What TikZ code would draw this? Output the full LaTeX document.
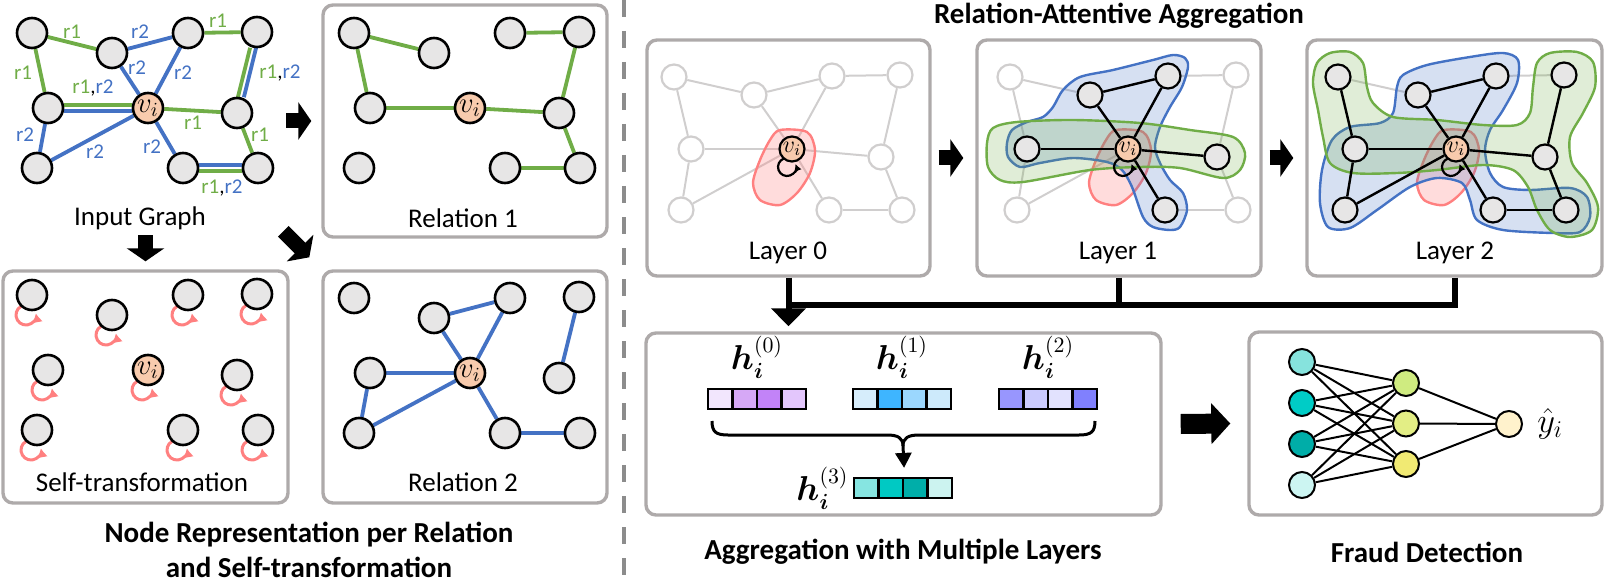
\documentclass[tikz,border=0pt]{standalone}
\usepackage{amsmath}
\usepackage{bm}
\usepackage{fontspec}
\setmainfont{Carlito}
\usetikzlibrary{calc,arrows.meta,positioning}

\definecolor{rgreen}{HTML}{70AD47}
\definecolor{rblue}{HTML}{4472C4}
\definecolor{boxgray}{HTML}{AEAAAA}
\definecolor{nodegray}{HTML}{E7E6E6}
\definecolor{vorange}{HTML}{F8CBAD}
\definecolor{loopred}{HTML}{FF8080}
\definecolor{edgegray}{HTML}{D0CECE}
\definecolor{sepgray}{HTML}{8C8C8C}
% vector cells
\definecolor{vzero1}{HTML}{F2E6FD}\definecolor{vzero2}{HTML}{D6A8F6}\definecolor{vzero3}{HTML}{C283F8}\definecolor{vzero4}{HTML}{E3C6FC}
\definecolor{vone1}{HTML}{D6EDFB}\definecolor{vone2}{HTML}{3EB5FF}\definecolor{vone3}{HTML}{9BD7FE}\definecolor{vone4}{HTML}{CDEAFB}
\definecolor{vtwo1}{HTML}{9896FE}\definecolor{vtwo2}{HTML}{CBCBFE}\definecolor{vtwo3}{HTML}{E2E2FE}\definecolor{vtwo4}{HTML}{8080FE}
\definecolor{vthree1}{HTML}{86E5E1}\definecolor{vthree2}{HTML}{00C9C3}\definecolor{vthree3}{HTML}{00AEA9}\definecolor{vthree4}{HTML}{CCF3F0}
% classifier
\definecolor{nin1}{HTML}{86E3DD}\definecolor{nin2}{HTML}{00CCC6}\definecolor{nin3}{HTML}{00ADA8}\definecolor{nin4}{HTML}{CCF5F2}
\definecolor{nhid1}{HTML}{CFEB80}\definecolor{nhid2}{HTML}{E3EE85}\definecolor{nhid3}{HTML}{F1EA73}
\definecolor{nout}{HTML}{FFF2CC}

\pgfdeclarelayer{bg}
\pgfdeclarelayer{blob}
\pgfsetlayers{bg,blob,main}

\tikzset{
  gnode/.style={circle, draw=black, line width=1.3pt, fill=nodegray, minimum size=15pt, inner sep=0pt},
  vnode/.style={gnode, fill=vorange, font=\fontsize{14}{14}\selectfont},
  lnode/.style={circle, draw=edgegray, line width=1.1pt, fill=white, minimum size=12.5pt, inner sep=0pt},
  hnode/.style={lnode, draw=black, fill=nodegray},
  lvnode/.style={hnode, fill=vorange, font=\fontsize{12}{12}\selectfont},
  gedge/.style={rgreen, line width=1.9pt},
  bedge/.style={rblue, line width=1.9pt},
  ledge/.style={edgegray, line width=1pt},
  kedge/.style={black, line width=1.2pt},
  panel/.style={draw=boxgray, line width=1.7pt, rounded corners=5pt, inner sep=0pt},
  lbl/.style={font=\fontsize{13.5}{15}\selectfont},
  ttl/.style={font=\fontsize{14.5}{17.5}\selectfont\bfseries, align=center},
  rlab/.style={font=\fontsize{10.5}{11}\selectfont, inner sep=0.5pt},
  hlab/.style={font=\fontsize{16}{16}\selectfont, inner sep=1pt},
  bigarrow/.style={line width=7.5pt, -{Triangle[width=18.5pt,length=6.5pt]}},
  collector/.style={line width=3pt},
  brace/.style={line width=1.5pt},
  selfloop/.style={loopred, line width=1.5pt, -{Latex[length=4.5pt,width=5.5pt]}},
  lloop/.style={black, line width=1.1pt, -{Latex[length=3.5pt,width=4pt]}},
  blueblob/.style={draw=rblue, line width=1.2pt, fill=rblue, fill opacity=0.22},
  greenblob/.style={draw=rgreen, line width=1.2pt, fill=rgreen, fill opacity=0.22},
  redblob/.style={draw=loopred, line width=1.2pt, fill=loopred, fill opacity=0.28},
  cell/.style={draw=black, line width=1.1pt, minimum width=12.25pt, minimum height=10pt, inner sep=0pt},
  nnode/.style={circle, draw=black, line width=1pt, minimum size=13pt, inner sep=0pt},
  nnedge/.style={black, line width=1pt}
}

% ten nodes of the toy graph, shifted by (#2,#3)
\newcommand{\placegraph}[3]{%
  \foreach \n/\x/\y in {a/32/33,b/112/53,c/188/33,d/257/32,e/48/108,f/237/113,g/37/168,h/183/168,i/258/168}
    \node[gnode] (#1\n) at (\x+#2,\y+#3) {};
  \node[vnode] (#1v) at (148+#2,108+#3) {$v_i$};
}
\newcommand{\drawedges}[3]{%
  \foreach \p/\q in {#3} {\draw[#2] (#1\p) -- (#1\q);}
}
\newcommand{\laypos}{a/674/77,b/754/95,c/832/76,d/900/75,e/691/149,f/881/157,g/681/210,h/829/210,i/902/210}

\begin{document}
\begin{tikzpicture}[x=0.5pt,y=-0.5pt]
\useasboundingbox (0,0) rectangle (1607,583);

% left half: input graph and its split
\placegraph{ig}{0}{0}
\placegraph{ro}{322}{0}
\placegraph{rt}{322}{265}
\placegraph{st}{0}{262}

\begin{pgfonlayer}{bg}
  \drawedges{ig}{gedge}{a/b,c/d,a/e,v/f,f/i}
  \drawedges{ig}{bedge}{b/c,b/v,c/v,e/g,g/v,v/h}
  \draw[gedge, transform canvas={yshift=1.5pt}] (ige) -- (igv);
  \draw[bedge, transform canvas={yshift=-1.5pt}] (ige) -- (igv);
  \draw[gedge, transform canvas={xshift=-1.5pt}] (igd) -- (igf);
  \draw[bedge, transform canvas={xshift=1.5pt}] (igd) -- (igf);
  \draw[bedge, transform canvas={yshift=1.5pt}] (igh) -- (igi);
  \draw[gedge, transform canvas={yshift=-1.5pt}] (igh) -- (igi);
  \drawedges{ro}{gedge}{a/b,a/e,e/v,v/f,c/d,d/f,f/i,h/i}
  \drawedges{rt}{bedge}{b/c,b/v,c/v,e/v,e/g,g/v,v/h,h/i,d/f}
  \foreach \n in {a,b,c,d,e,f,g,h,i,v}
    \draw[selfloop] (st\n.center) ++(-6,20) ++(240:10) arc[start angle=240, end angle=-10, radius=10];
\end{pgfonlayer}

\foreach \x/\y [count=\k] in {72/32,218/21,23/73,193/123,260/135}
  \node[rlab, text=rgreen] (labg\k) at (\x,\y) {r1};
\foreach \x/\y [count=\k] in {140/32,137/68,183/73,25/135,95/152,152/147}
  \node[rlab, text=rblue] (labb\k) at (\x,\y) {r2};
\foreach \x/\y [count=\k] in {93/88,280/73,222/188}
  \node[rlab] (labgb\k) at (\x,\y) {\textcolor{rgreen}{r1},\textcolor{rblue}{r2}};

\node[panel, minimum width=142pt, minimum height=116pt] (rel1) at (465,121) {};
\node[panel, minimum width=142.5pt, minimum height=116pt] (selft) at (145.5,387) {};
\node[panel, minimum width=142pt, minimum height=116pt] (rel2) at (465,387) {};

\node[lbl] (iglbl) at (140,218) {Input Graph};
\node[lbl] (r1lbl) at (463,218) {Relation 1};
\node[lbl] (stlbl) at (142,482) {Self-transformation};
\node[lbl] (r2lbl) at (463,482) {Relation 2};
\node[ttl] (lefttitle) at (309,550) {Node Representation per Relation\\and Self-transformation};

\draw[bigarrow] ([xshift=-17.5pt]rel1.west) -- ([xshift=-5pt]rel1.west);
\draw[bigarrow] ([yshift=17pt]selft.north) -- ([yshift=4pt]selft.north);
\draw[bigarrow] ([shift={(-19pt,19pt)}]rel2.north west) -- ([shift={(-6pt,6pt)}]rel2.north west);

\draw[sepgray, line width=2pt, dash pattern=on 8.5pt off 7pt] (624,0) -- (624,583);

% right half: layers
\node[panel, minimum width=141.5pt, minimum height=118pt] (lay0) at (788.5,158) {};
\node[panel, minimum width=142pt, minimum height=118pt] (lay1) at (1119,158) {};
\node[panel, minimum width=147.5pt, minimum height=118pt] (lay2) at (1454.5,158) {};
\node[ttl] (toptitle) at (1119,16) {Relation-Attentive Aggregation};
\node[lbl] (l0lbl) at (788,253) {Layer 0};
\node[lbl] (l1lbl) at (1118,253) {Layer 1};
\node[lbl] (l2lbl) at (1455,253) {Layer 2};

\foreach \n/\x/\y in \laypos \node[lnode] (l0\n) at (\x,\y) {};
\node[lvnode] (l0v) at (792,149) {$v_i$};
\begin{scope}[shift={(336,0)}]
  \foreach \n/\x/\y in {a/674/77,d/900/75,g/681/210,i/902/210} \node[lnode] (l1\n) at (\x,\y) {};
  \foreach \n/\x/\y in {b/754/95,c/832/76,e/691/149,f/881/157,h/829/210} \node[hnode] (l1\n) at (\x,\y) {};
  \node[lvnode] (l1v) at (792,149) {$v_i$};
\end{scope}
\begin{scope}[shift={(664,0)}]
  \foreach \n/\x/\y in \laypos \node[hnode] (l2\n) at (\x,\y) {};
  \node[lvnode] (l2v) at (792,149) {$v_i$};
\end{scope}

\begin{pgfonlayer}{bg}
  \foreach \lay in {l0,l1,l2}
    {\drawedges{\lay}{ledge}{a/b,b/c,c/d,a/e,b/v,c/v,d/f,e/v,v/f,e/g,g/v,v/h,f/i,h/i}}
\end{pgfonlayer}

\begin{pgfonlayer}{blob}
  \foreach \dx in {0,336,664}
    \draw[redblob, shift={(\dx,0)}] plot[smooth cycle] coordinates {(780,130) (807,132) (815,150) (810,173) (797,193) (780,205) (760,200) (753,183) (760,160) (770,140)};
  \begin{scope}[shift={(336,0)}]
    \draw[blueblob] plot[smooth cycle] coordinates {(671,143) (676,130) (691,122) (707,117) (717,107) (727,90) (744,77) (777,70) (817,60) (837,55) (849,58) (852,67) (846,87) (834,107) (824,127) (819,147) (824,163) (834,180) (847,193) (851,210) (844,227) (834,230) (817,227) (807,217) (796,187) (786,170) (771,162) (737,158) (704,163) (684,167) (672,157)};
    \draw[greenblob] plot[smooth cycle] coordinates {(651,143) (657,128) (681,122) (737,120) (804,123) (854,130) (897,137) (909,153) (904,170) (887,178) (844,168) (804,167) (754,170) (687,182) (664,180) (652,167)};
  \end{scope}
  \begin{scope}[shift={(664,0)}]
    \draw[blueblob] plot[smooth cycle] coordinates {(733,87) (739,75) (763,65) (806,57) (839,53) (854,60) (853,83) (839,110) (826,130) (821,150) (826,173) (839,187) (866,190) (906,188) (923,197) (926,217) (916,232) (889,233) (839,230) (813,220) (806,200) (798,183) (773,178) (746,187) (713,210) (686,228) (664,227) (656,203) (658,170) (668,140) (686,127) (716,123) (729,113)};
    \draw[greenblob] plot[smooth cycle] coordinates {(653,63) (666,53) (686,52) (699,63) (703,87) (709,103) (729,117) (773,120) (819,125) (853,125) (866,113) (869,87) (873,63) (886,53) (913,52) (929,62) (931,87) (919,113) (906,137) (908,163) (923,183) (934,207) (928,230) (906,237) (886,230) (873,210) (864,187) (849,170) (819,165) (773,170) (733,173) (689,173) (666,163) (659,137) (654,110) (649,83)};
  \end{scope}
  \foreach \lay in {l0,l1,l2}
    \draw[lloop] (\lay v.center) ++(-5,18) ++(250:9) arc[start angle=250, end angle=-20, radius=9];
\end{pgfonlayer}

\drawedges{l1}{kedge}{b/c,b/v,c/v,e/v,v/f,v/h}
\drawedges{l2}{kedge}{a/e,e/g,e/v,g/v,b/v,c/v,b/c,v/f,v/h,h/i,d/f,f/i}

\draw[bigarrow] ([xshift=3.5pt]lay0.east) -- ([xshift=-6pt]lay1.west);
\draw[bigarrow] ([xshift=3.5pt]lay1.east) -- ([xshift=-6pt]lay2.west);

% aggregation
\node[panel, minimum width=257.5pt, minimum height=91pt] (agg) at (903.5,424) {};
\node[ttl] (aggtitle) at (903,552) {Aggregation with Multiple Layers};

\coordinate (bar0) at ($(lay0.south)+(0,27)$);
\coordinate (bar1) at ($(lay1.south)+(0,27)$);
\coordinate (bar2) at ($(lay2.south)+(0,27)$);
\coordinate (aggin) at (agg.north -| lay0.south);
\draw[collector] (lay1.south) -- (bar1);
\draw[collector] (lay2.south) -- (bar2) -- (bar0);
\draw[collector, -{Triangle[width=17pt,length=9pt]}] (lay0.south) -- ([yshift=2.5pt]aggin);

\foreach \c [count=\k] in {vzero1,vzero2,vzero3,vzero4}
  \node[cell, fill=\c] (hz\k) at (708+24.5*\k-12.25,399) {};
\foreach \c [count=\k] in {vone1,vone2,vone3,vone4}
  \node[cell, fill=\c] (ho\k) at (853+24.5*\k-12.25,399) {};
\foreach \c [count=\k] in {vtwo1,vtwo2,vtwo3,vtwo4}
  \node[cell, fill=\c] (ht\k) at (999+24.5*\k-12.25,399) {};
\foreach \c [count=\k] in {vthree1,vthree2,vthree3,vthree4}
  \node[cell, fill=\c] (hr\k) at (854+24.5*\k-12.25,488) {};

\node[hlab] (hzlbl) at (757,357) {$\bm{h}_{\bm{i}}^{(0)}$};
\node[hlab] (holbl) at (902,357) {$\bm{h}_{\bm{i}}^{(1)}$};
\node[hlab] (htlbl) at (1048,357) {$\bm{h}_{\bm{i}}^{(2)}$};
\node[hlab, left=1pt of hr1] (hrlbl) {$\bm{h}_{\bm{i}}^{(3)}$};

\coordinate (bl) at (712,421);
\coordinate (br) at (1095,421);
\coordinate (cusp) at (903,446);
\draw[brace] (bl) .. controls (712,432) and (716,435) .. (728,435) -- (887,435) .. controls (898,435) and (903,438) .. (cusp);
\draw[brace] (br) .. controls (1095,432) and (1091,435) .. (1079,435) -- (919,435) .. controls (908,435) and (903,438) .. (cusp);
\draw[brace, -{Triangle[width=8pt,length=7.5pt]}] (cusp) -- ([yshift=4.5pt]hr2.north east);

% classifier
\node[panel, minimum width=176.5pt, minimum height=91.5pt] (fraud) at (1425.5,423.5) {};
\node[ttl] (fraudtitle) at (1427,552) {Fraud Detection};
\draw[bigarrow, line width=10pt, -{Triangle[width=20pt,length=9.5pt]}] ([xshift=9pt]agg.east) -- ([xshift=-8.5pt]fraud.west);

\foreach \c [count=\k] in {nin1,nin2,nin3,nin4}
  \node[nnode, fill=\c] (nx\k) at (1302,321+41*\k) {};
\foreach \c [count=\k] in {nhid1,nhid2,nhid3}
  \node[nnode, fill=\c] (nh\k) at (1406,342.5+40.5*\k) {};
\node[nnode, fill=nout] (ny) at (1509,424) {};
\node[right=7pt of ny, font=\fontsize{18}{18}\selectfont, inner sep=0pt] (yhat) {$\hat{y}_i$};
\foreach \a in {1,...,4}
  \foreach \b in {1,2,3}
    \draw[nnedge] (nx\a) -- (nh\b);
\foreach \b in {1,2,3}
  \draw[nnedge] (nh\b) -- (ny);

\end{tikzpicture}
\end{document}
